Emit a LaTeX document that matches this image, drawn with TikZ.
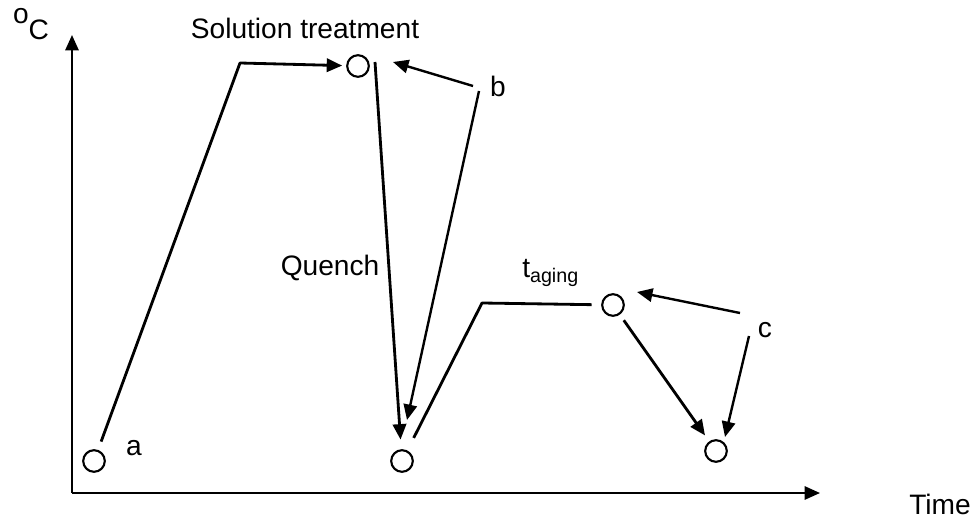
\documentclass[tikz,border=0pt]{standalone}
\usepackage{fontspec}
\setmainfont{Liberation Sans}
\usetikzlibrary{arrows.meta}
\tikzset{
  stage/.style={circle, draw, line width=1.5pt, minimum size=0.54cm, inner sep=0pt},
  lbl/.style={inner sep=0pt, font=\fontsize{20}{24}\selectfont},
  tip/.style={-{Triangle[length=11pt,width=9.5pt]}},
  curve/.style={line width=2pt},
  ptr/.style={line width=1.7pt, tip},
}

\begin{document}
\begin{tikzpicture}[x=0.025cm, y=-0.025cm, line join=round]
\useasboundingbox (0,0) rectangle (978,523);

% axes
\coordinate (origin) at (72,493);
\coordinate (ytop) at (72,35);
\coordinate (xend) at (820,493);
\draw[line width=1.5pt, tip] (origin) -- (ytop);
\draw[line width=1.5pt, tip] (origin) -- (xend);

\node[stage] (a) at (94,461) {};
\node[stage] (top) at (358,66) {};
\node[stage] (bot) at (402,461) {};
\node[stage] (age) at (613,305) {};
\node[stage] (fin) at (716,451) {};

\coordinate (heat) at (240,63);
\coordinate (q1) at (375,62);
\coordinate (rise) at (482,303);

% heat treatment cycle
\draw[curve, tip, shorten <=0.22cm, shorten >=0.1cm] (a) -- (heat) -- (top);
\draw[curve, tip, shorten >=0.24cm] (q1) -- (bot);
\draw[curve, shorten <=0.35cm, shorten >=0.24cm] (bot) -- (rise) -- (age);
\draw[curve, tip, shorten <=0.17cm, shorten >=0.18cm] (age) -- (fin);

% pointers
\coordinate (b1) at (473,86);
\coordinate (b2) at (479,91);
\coordinate (bt1) at (393,62);
\coordinate (bt2) at (407,420);
\coordinate (c1) at (740,313);
\coordinate (c2) at (749,336);
\coordinate (ct1) at (637,292);
\coordinate (ct2) at (725,437);
\draw[ptr] (b1) -- (bt1);
\draw[ptr] (b2) -- (bt2);
\draw[ptr] (c1) -- (ct1);
\draw[ptr] (c2) -- (ct2);

\node[lbl] (degC) at (31,24) {\raisebox{0.58em}{o}C};
\node[lbl] (soltext) at (305,28) {Solution treatment};
\node[lbl] (alabel) at (134,448) {a};
\node[lbl] (blabel) at (498,86) {b};
\node[lbl] (clabel) at (765,330) {c};
\node[lbl] (quench) at (330,268) {Quench};
\node[lbl, anchor=base west] (aging) at (522,278) {t\textsubscript{aging}};
\node[lbl] (time) at (940,504) {Time};

\end{tikzpicture}
\end{document}
